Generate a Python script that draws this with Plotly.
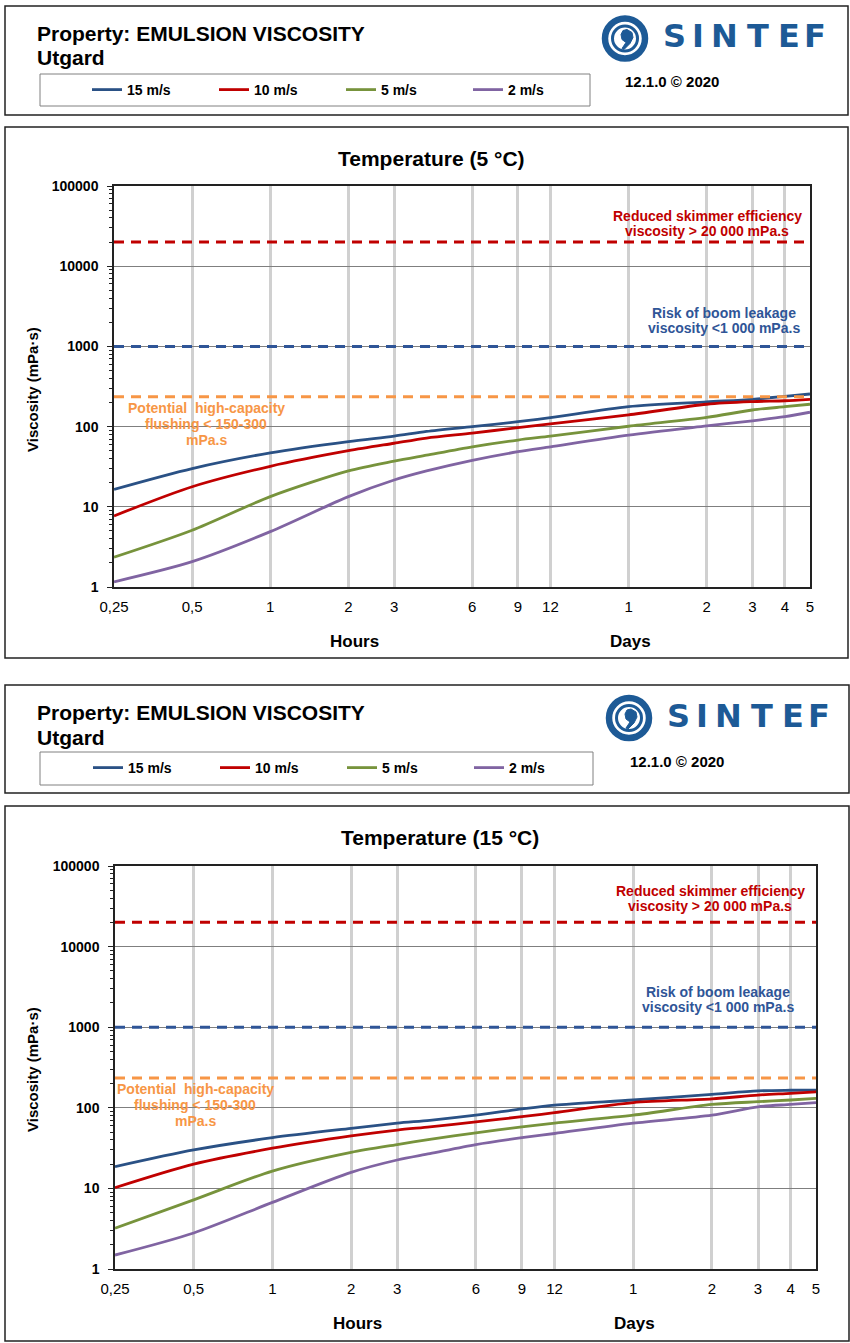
import math
import plotly.graph_objects as go

W, H = 850, 1343
FONT = "Liberation Sans, Arial, sans-serif"

# time since release (hours)
hours = [0.25, 0.5, 1, 2, 3, 4, 6, 9, 12, 24, 48, 72, 96, 120]

# emulsion viscosity (mPa.s) at 5 °C, one list per wind speed
visc_5c_15ms = [16.5, 30, 47, 65, 76, 87, 100, 115, 129, 177, 203, 219, 238, 255]
visc_5c_10ms = [7.7, 17.8, 32, 50, 62, 72, 83, 97, 108, 140, 190, 205, 210, 219]
visc_5c_5ms = [2.35, 5.1, 13.4, 28, 37, 44, 56, 68, 76, 101, 130, 161, 177, 190]
visc_5c_2ms = [1.16, 2.07, 4.9, 13.4, 21.6, 28, 38, 48.6, 56, 78.5, 102, 118, 133, 151]

# emulsion viscosity (mPa.s) at 15 °C
visc_15c_15ms = [18.6, 30, 42.6, 55.6, 64.5, 70, 81, 96.7, 108, 125, 147, 162, 165, 166]
visc_15c_10ms = [10.2, 20, 31.5, 44.8, 53, 58, 67, 77.5, 87, 116, 129, 144, 151, 158]
visc_15c_5ms = [3.2, 7.2, 16.4, 28, 35, 40.7, 49, 58, 64.5, 81, 110, 119, 125, 131]
visc_15c_2ms = [1.49, 2.8, 6.7, 15.8, 22.5, 27, 35, 42.6, 48, 64.5, 81, 103, 110, 116]

wind_speeds = ["15 m/s", "10 m/s", "5 m/s", "2 m/s"]
wind_colors = ["#2A5185", "#C00000", "#77933C", "#8064A2"]

# response limits (mPa.s)
limit_values = [20000, 1000, 235]
limit_colors = ["#C00000", "#2F5597", "#F79646"]

tick_hours = [0.25, 0.5, 1, 2, 3, 6, 9, 12, 24, 48, 72, 96, 120]
tick_text = ["0,25", "0,5", "1", "2", "3", "6", "9", "12", "1", "2", "3", "4", "5"]
visc_ticks = [1, 10, 100, 1000, 10000, 100000]


def px(x):
    return x / W


def py(y):
    return 1 - y / H


# page layout of the two report blocks, in pixels
panels = [
    dict(title="Temperature (5 °C)",
         series=[visc_5c_15ms, visc_5c_10ms, visc_5c_5ms, visc_5c_2ms],
         head=(5, 6, 848, 115), legbox=(40, 74, 590, 106), leg=(87, 90),
         h1=(35, 33), h2=(35, 58), logo=(625, 38.5), ver=(672, 82),
         box=(5, 127, 848, 658), plot=(114, 186, 810, 587),
         ttl=(432, 158), ytl=(32, 390), hrs=(354, 641), days=(630, 641),
         red=(707, 216), blue=(724, 313), orange=(206, 408)),
    dict(title="Temperature (15 °C)",
         series=[visc_15c_15ms, visc_15c_10ms, visc_15c_5ms, visc_15c_2ms],
         head=(5, 685, 849, 793), legbox=(40, 752, 593, 785), leg=(88, 768),
         h1=(35, 712), h2=(35, 737), logo=(629, 718), ver=(677, 761),
         box=(5, 806, 849, 1341), plot=(115, 866, 816, 1269),
         ttl=(440, 838), ytl=(32, 1070), hrs=(357, 1323), days=(634, 1323),
         red=(710, 891), blue=(718, 992), orange=(195, 1089)),
]

fig = go.Figure()
annotations = []
shapes = []


def ann(text, x, y, size, color="black", bold=True, xanchor="center", angle=0, family=FONT):
    annotations.append(dict(
        text=text, x=px(x), y=py(y), xref="paper", yref="paper",
        xanchor=xanchor, yanchor="middle", showarrow=False, textangle=angle,
        font=dict(family=family, size=size, color=color, weight="bold" if bold else "normal")))


def rect(b, color, width):
    shapes.append(dict(type="rect", xref="paper", yref="paper",
                       x0=px(b[0]), y0=py(b[1]), x1=px(b[2]), y1=py(b[3]),
                       line=dict(color=color, width=width), layer="above"))


logo_blue = "#1D5A96"

for i, p in enumerate(panels):
    sfx = "" if i == 0 else str(i + 1)
    xa, ya = "x" + sfx, "y" + sfx
    leg = "legend" + sfx

    for vals, name, col in zip(p["series"], wind_speeds, wind_colors):
        fig.add_trace(go.Scatter(
            x=hours, y=vals, mode="lines", name=name, xaxis=xa, yaxis=ya, legend=leg,
            line=dict(color=col, width=2.8, shape="spline", smoothing=0.8)))
    for v, col in zip(limit_values, limit_colors):
        fig.add_trace(go.Scatter(
            x=[hours[0], hours[-1]], y=[v, v], mode="lines", xaxis=xa, yaxis=ya,
            showlegend=False, hoverinfo="skip",
            line=dict(color=col, width=3, dash="10px,7px")))

    x0, y0, x1, y1 = p["plot"]
    fig.update_layout(**{
        "xaxis" + sfx: dict(
            type="log", domain=[px(x0), px(x1)], automargin=False,
            range=[math.log10(hours[0]), math.log10(hours[-1])],
            anchor=ya, tickmode="array", tickvals=tick_hours, ticktext=tick_text,
            showgrid=True, gridcolor="#D0D0D0", gridwidth=3, zeroline=False,
            showline=True, mirror=True, linecolor="#222222", linewidth=1.5,
            ticks="", ticklabelstandoff=5,
            tickfont=dict(family=FONT, size=15, color="black")),
        "yaxis" + sfx: dict(
            type="log", domain=[py(y1), py(y0)], range=[0, 5], anchor=xa, automargin=False,
            tickmode="array", tickvals=visc_ticks, ticktext=[str(v) for v in visc_ticks],
            showgrid=True, gridcolor="#7F7F7F", gridwidth=1, zeroline=False,
            showline=True, mirror=True, linecolor="#222222", linewidth=1.5,
            ticks="outside", ticklen=5, tickcolor="#222222", ticklabelstandoff=6,
            minor=dict(ticks="outside", ticklen=3, tickcolor="#222222", dtick="D1", showgrid=False),
            tickfont=dict(family=FONT, size=14, color="black", weight="bold")),
        leg: dict(
            orientation="h", x=px(p["leg"][0]), y=py(p["leg"][1]),
            xanchor="left", yanchor="middle", bgcolor="rgba(0,0,0,0)", borderwidth=0,
            entrywidth=82, entrywidthmode="pixels",
            font=dict(family=FONT, size=14, color="black", weight="bold")),
    })

    # boxes
    rect(p["head"], "#222222", 1.5)
    rect(p["legbox"], "#808080", 1)
    rect(p["box"], "#222222", 1.5)

    # header text
    ann("Property: EMULSION VISCOSITY", p["h1"][0], p["h1"][1], 21, xanchor="left")
    ann("Utgard", p["h2"][0], p["h2"][1], 21, xanchor="left")
    ann("12.1.0 © 2020", p["ver"][0], p["ver"][1], 15)

    # SINTEF logo
    cx, cy = p["logo"]
    for dx, letter in zip([49.5, 72.5, 99, 132.5, 163.5, 190], "SINTEF"):
        ann(letter, cx + dx, cy - 2, 32, color=logo_blue, family="DejaVu Sans, sans-serif")
    for r, w in [(20, 6.5), (12.5, 3)]:
        shapes.append(dict(type="circle", xref="paper", yref="paper",
                           x0=px(cx - r), x1=px(cx + r), y0=py(cy - r), y1=py(cy + r),
                           line=dict(color=logo_blue, width=w)))
    comma = [(cx + 2, cy - 9), (cx + 7, cy - 6), (cx + 8, cy - 1), (cx + 5, cy + 5),
             (cx - 1, cy + 11), (cx - 3, cy + 10), (cx + 1, cy + 4), (cx - 3, cy + 1),
             (cx - 4, cy - 4), (cx - 2, cy - 8)]
    path = "M" + " L".join(f"{px(a):.5f},{py(b):.5f}" for a, b in comma) + " Z"
    shapes.append(dict(type="path", xref="paper", yref="paper", path=path,
                       fillcolor=logo_blue, line=dict(color=logo_blue, width=1)))

    # chart texts
    ann(p["title"], p["ttl"][0], p["ttl"][1], 21)
    ann("Viscosity (mPa·s)", p["ytl"][0], p["ytl"][1], 15, angle=-90)
    ann("Hours", p["hrs"][0], p["hrs"][1], 17)
    ann("Days", p["days"][0], p["days"][1], 17)

    rx, ry = p["red"]
    ann("Reduced skimmer efficiency", rx, ry, 14, color="#C00000")
    ann("viscosity > 20 000 mPa.s", rx, ry + 14.5, 14, color="#C00000")
    bx, by = p["blue"]
    ann("Risk of boom leakage", bx, by, 14, color="#2F5597")
    ann("viscosity <1 000 mPa.s", bx, by + 15, 14, color="#2F5597")
    ox, oy = p["orange"]
    ann("Potential  high-capacity", ox, oy, 14, color="#F79646")
    ann("flushing < 150-300", ox, oy + 15.5, 14, color="#F79646")
    ann("mPa.s", ox, oy + 32, 14, color="#F79646")

fig.update_layout(
    template="none",
    width=W, height=H, margin=dict(l=0, r=0, t=0, b=0, pad=0, autoexpand=False),
    paper_bgcolor="white", plot_bgcolor="white",
    font=dict(family=FONT, color="black"),
    annotations=annotations, shapes=shapes, hovermode=False,
)

# page body margin would push the fixed-size figure off the window
fig.write_html("out.html", config={"displayModeBar": False},
               post_script="document.body.style.margin='0';document.body.style.overflow='hidden';")
